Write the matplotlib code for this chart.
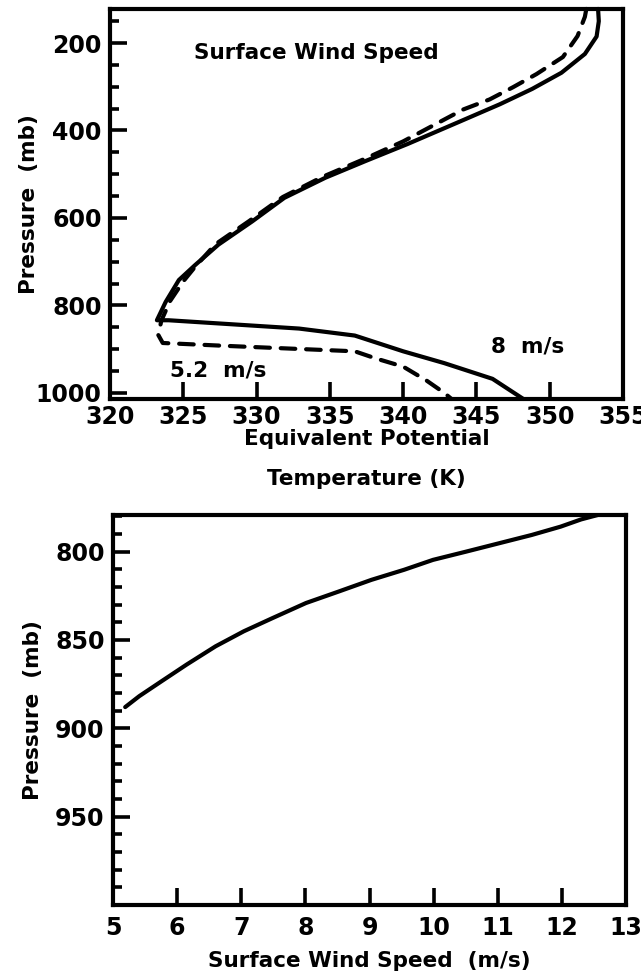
import numpy as np
import matplotlib.pyplot as plt
from matplotlib.ticker import MultipleLocator

plt.rcParams['font.family'] = ['DejaVu Sans']
plt.rcParams['font.weight'] = 'bold'
plt.rcParams['axes.labelweight'] = 'bold'

# equivalent potential temperature profiles (K) vs pressure (mb)
theta_8 = [353.3, 353.35, 353.2, 352.4, 350.8, 348.8, 346.6, 343.7, 340.3, 337.5,
           334.7, 331.9, 329.7, 327.4, 325.8, 324.7, 323.8, 323.2,
           324.0, 332.9, 336.7, 340.0, 342.8, 346.1, 348.2]
p_8 = [122, 150, 185, 225, 268, 305, 340, 382, 431, 469,
       508, 554, 608, 661, 708, 742, 792, 834,
       834, 853, 869, 905, 932, 968, 1014]

theta_52 = [352.5, 352.4, 351.9, 350.9, 349.1, 347.5, 345.9, 344.1, 340.0, 337.3,
            334.5, 331.8, 329.5, 327.2, 325.8, 325.0, 324.1, 323.5, 323.3, 323.6,
            327.5, 331.0, 336.7, 338.1, 340.0, 341.6, 342.8, 343.3]
p_52 = [122, 140, 184, 232, 271, 301, 329, 352, 425, 466,
        506, 552, 607, 660, 712, 745, 790, 835, 868, 886,
        892, 897, 905, 921, 940, 972, 1000, 1014]

# surface wind speed (m/s) vs pressure (mb)
wind = [5.19, 5.41, 5.76, 6.15, 6.60, 7.04, 7.49, 8.01, 8.52, 9.03,
        9.54, 9.99, 10.51, 11.02, 11.53, 11.98, 12.30, 12.56]
p_wind = [888, 881.8, 873.3, 863.9, 853.6, 845.1, 837.6, 829.1, 822.6, 816,
          810.3, 804.7, 800, 795.3, 790.6, 785.9, 781.8, 779.3]

fig = plt.figure(figsize=(6.41, 9.8), dpi=100)
ax1 = fig.add_axes([0.1716, 0.5929, 0.8003, 0.398])
ax2 = fig.add_axes([0.1763, 0.0765, 0.8003, 0.398])

lw = 3
for ax in (ax1, ax2):
    for s in ax.spines.values():
        s.set_linewidth(lw)
    ax.tick_params(which='both', direction='in', width=2.6, labelsize=17,
                   top=False, right=False)
    ax.tick_params(which='major', length=12)
    ax.tick_params(which='minor', length=6.5)
    ax.tick_params(axis='y', pad=6)

ax1.plot(theta_8, p_8, color='black', lw=lw, solid_capstyle='round',
         solid_joinstyle='round', clip_on=False)
ax1.plot(theta_52, p_52, color='black', lw=lw, ls=(0, (3.5, 2.6)),
         dash_capstyle='round', clip_on=False)
ax1.set_xlim(320, 355)
ax1.set_ylim(1014, 122)
ax1.xaxis.set_major_locator(MultipleLocator(5))
ax1.yaxis.set_major_locator(MultipleLocator(200))
ax1.yaxis.set_minor_locator(MultipleLocator(50))
ax1.tick_params(axis='x', pad=4)
ax1.set_xlabel('Equivalent Potential\nTemperature (K)', fontsize=15.5,
               linespacing=2.25, labelpad=0)
ax1.set_ylabel('Pressure  (mb)', fontsize=15.5)
ax1.yaxis.set_label_coords(-0.138, 0.5)
ax1.text(334.1, 222, 'Surface Wind Speed', fontsize=15.5, ha='center', va='center')
ax1.text(327.4, 949, '5.2  m/s', fontsize=15.5, ha='center', va='center')
ax1.text(348.5, 894, '8  m/s', fontsize=15.5, ha='center', va='center')

ax2.plot(wind, p_wind, color='black', lw=lw, solid_capstyle='round')
ax2.set_xlim(5, 13)
ax2.set_ylim(1000, 779.3)
ax2.xaxis.set_major_locator(MultipleLocator(1))
ax2.yaxis.set_minor_locator(MultipleLocator(10))
ax2.set_yticks([800, 850, 900, 950])
ax2.tick_params(axis='x', pad=8)
ax2.set_xlabel('Surface Wind Speed  (m/s)', fontsize=15.5, labelpad=8)
ax2.set_ylabel('Pressure  (mb)', fontsize=15.5)
ax2.yaxis.set_label_coords(-0.136, 0.5)

fig.savefig('out.png', dpi=100)
